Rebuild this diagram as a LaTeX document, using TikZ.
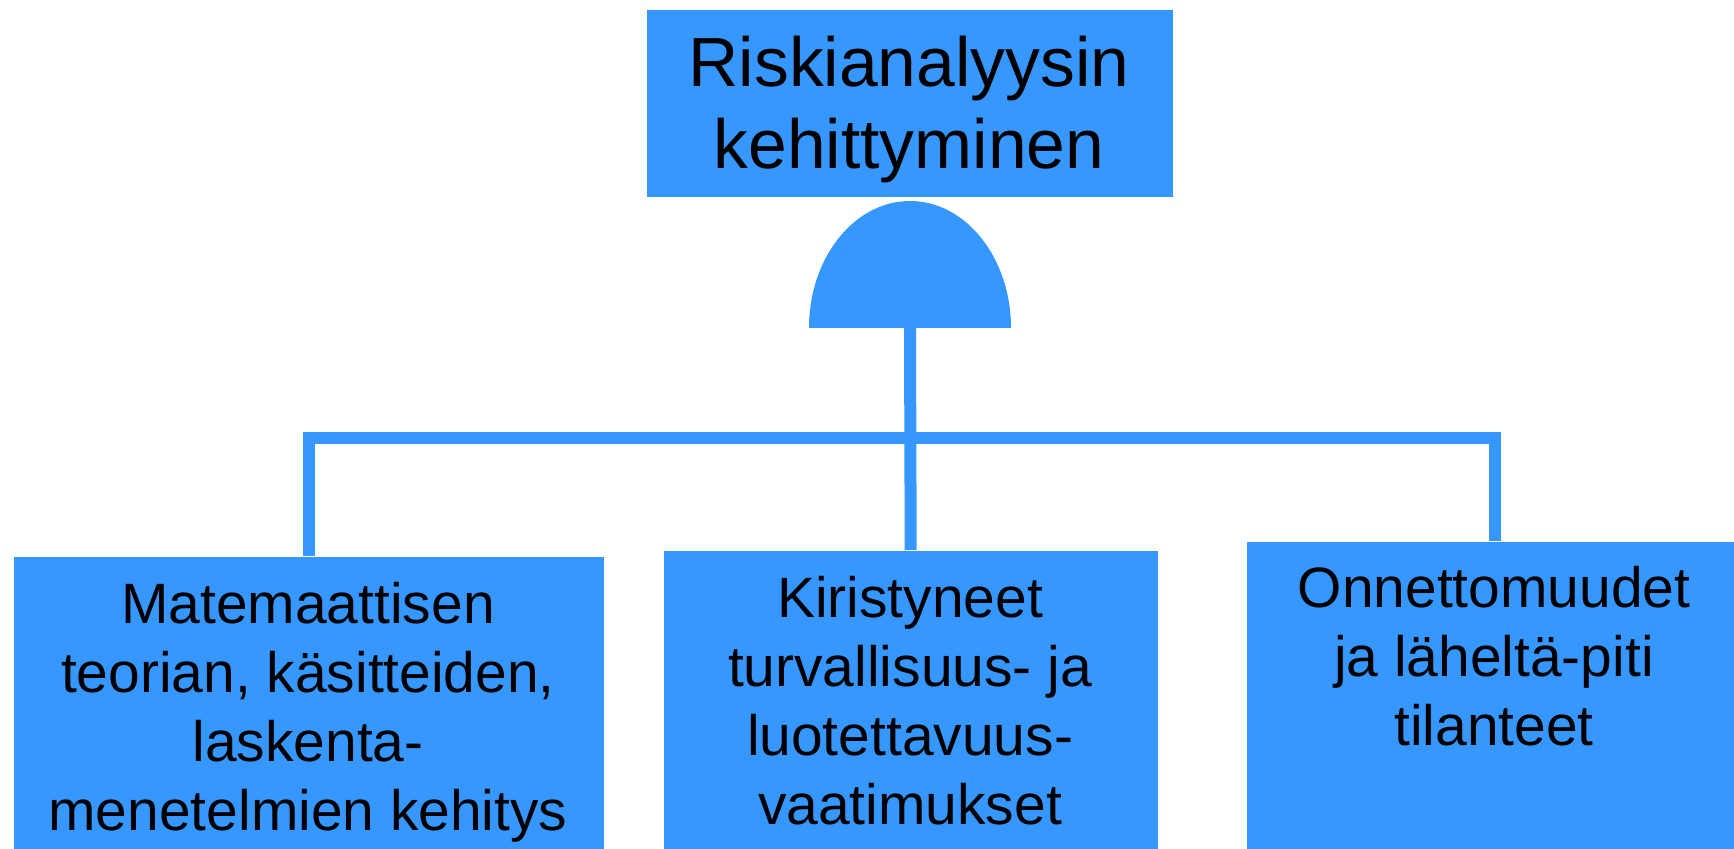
\documentclass[tikz,border=0pt]{standalone}
\usepackage{fontspec}
\setmainfont{Liberation Sans}
\definecolor{riskblue}{RGB}{54,152,255}

\tikzstyle{box} = [rectangle, fill=riskblue, inner sep=0pt, anchor=north west]
\tikzstyle{lbl} = [align=center, inner sep=0pt, anchor=north]
\tikzstyle{link} = [draw, line width=1.2mm, color=riskblue]

\begin{document}
\begin{tikzpicture}
		\useasboundingbox (0,0) rectangle (17.34,-8.49);
		%top event
		\node [box, minimum width=5.26cm, minimum height=1.87cm] (Top) at (6.46,-0.09) {};
		\node [lbl, font=\fontsize{19.8}{23.3}\selectfont] (TopTxt) at (9.09,-0.35) {Riskianalyysin\\kehittyminen};
		
		%and gate
		\fill[riskblue] (8.09,-3.28) arc[start angle=180, end angle=0, x radius=1.01cm, y radius=1.27cm] -- cycle;
		\coordinate (Gate) at (9.10,-3.28);
		\coordinate (Bar) at (9.10,-4.38);
		
		%causes
		\node [box, minimum width=5.90cm, minimum height=3.1cm] (Box1) at (0.13,-5.56) {};
		\node [box, minimum width=4.94cm, minimum height=3.1cm] (Box2) at (6.63,-5.50) {};
		\node [box, minimum width=4.96cm, minimum height=3.2cm] (Box3) at (12.46,-5.41) {};
		\node [lbl, font=\fontsize{16.2}{19.6}\selectfont] (Txt1) at (3.08,-5.82) {Matemaattisen\\teorian, käsitteiden,\\laskenta-\\menetelmien kehitys};
		\node [lbl, font=\fontsize{16.2}{19.6}\selectfont] (Txt2) at (9.10,-5.76) {Kiristyneet\\turvallisuus- ja\\luotettavuus-\\vaatimukset};
		\node [lbl, font=\fontsize{16.2}{19.6}\selectfont] (Txt3) at (14.94,-5.66) {Onnettomuudet\\ja läheltä-piti\\tilanteet};
		
		%connectors
		\draw[link] (Gate) -- (Box2.north);
		\draw[link] (Box1.north) |- (Bar) -| (Box3.north);
		
\end{tikzpicture}
\end{document}
